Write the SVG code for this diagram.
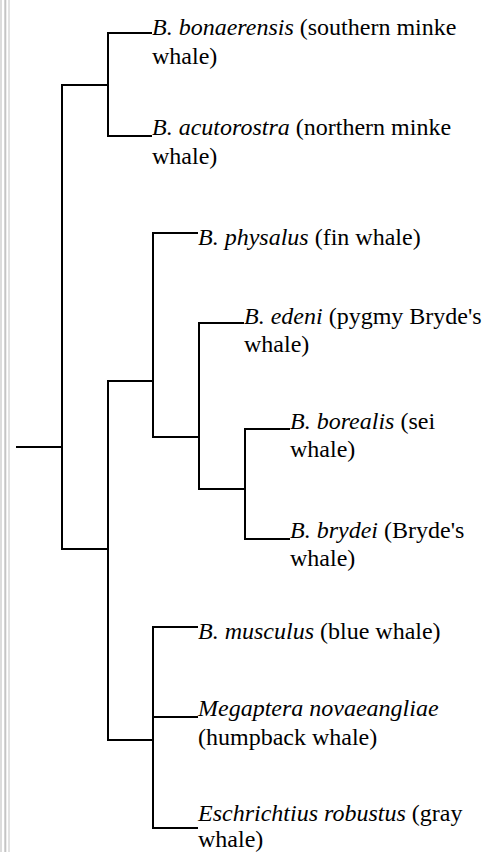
<svg xmlns="http://www.w3.org/2000/svg" width="486" height="852" viewBox="0 0 486 852">
<style>
.t{font-family:"Liberation Serif","Times New Roman",serif;font-size:24px;fill:#000}
.i{font-style:italic}
.c{fill:none;stroke:#000;stroke-width:2}
</style>
<rect width="486" height="852" fill="#fff"/>
<g id="border">
<rect x="0" y="0" width="2" height="852" fill="#dcdcdc"/>
<rect x="4.3" y="0" width="2" height="852" fill="#c4c4c4"/>
<rect x="8" y="0" width="2" height="852" fill="#e2e2e2"/>
</g>
<g id="connectors">
<path class="c" d="M16 447 H62"/>
<path class="c" d="M108 85 H62 V549 H108"/>
<path class="c" d="M152 33 H108 V136 H152"/>
<path class="c" d="M153 381 H108 V740 H153"/>
<path class="c" d="M198 233 H153 V437 H199"/>
<path class="c" d="M244 323 H199 V489 H245"/>
<path class="c" d="M290 429 H245 V539 H290"/>
<path class="c" d="M198 627 H153 V828 H198"/>
<path class="c" d="M153 717 H198"/>
</g>
<g id="bonaerensis"><text class="t" x="152" y="35"><tspan class="i">B. bonaerensis</tspan> (southern minke</text><text class="t" x="152" y="64">whale)</text></g>
<g id="acutorostra"><text class="t" x="152" y="135"><tspan class="i">B. acutorostra</tspan> (northern minke</text><text class="t" x="152" y="164">whale)</text></g>
<g id="physalus"><text class="t" x="198" y="245"><tspan class="i">B. physalus</tspan> (fin whale)</text></g>
<g id="edeni"><text class="t" x="244" y="324"><tspan class="i">B. edeni</tspan> (pygmy Bryde's</text><text class="t" x="244" y="352">whale)</text></g>
<g id="borealis"><text class="t" x="290" y="429"><tspan class="i">B. borealis</tspan> (sei</text><text class="t" x="290" y="457">whale)</text></g>
<g id="brydei"><text class="t" x="290" y="538"><tspan class="i">B. brydei</tspan> (Bryde's</text><text class="t" x="290" y="566">whale)</text></g>
<g id="musculus"><text class="t" x="198" y="639"><tspan class="i">B. musculus</tspan> (blue whale)</text></g>
<g id="megaptera"><text class="t" x="198" y="716"><tspan class="i">Megaptera novaeangliae</tspan></text><text class="t" x="198" y="745">(humpback whale)</text></g>
<g id="eschrichtius"><text class="t" x="198" y="821"><tspan class="i">Eschrichtius robustus</tspan> (gray</text><text class="t" x="198" y="847">whale)</text></g>
</svg>
